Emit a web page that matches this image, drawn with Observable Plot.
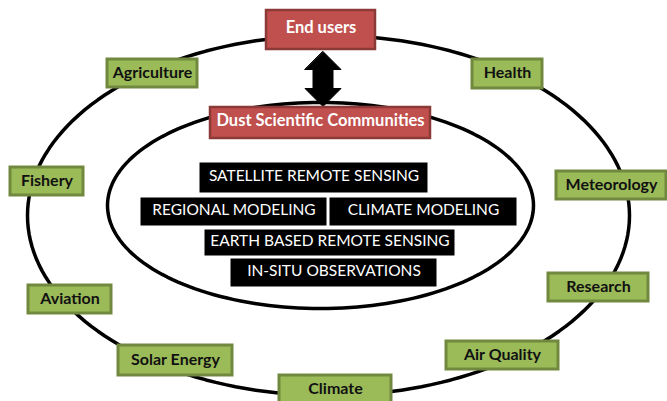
<!DOCTYPE html>
<html><head><meta charset="utf-8">
<script src="https://cdn.jsdelivr.net/npm/d3@7"></script>
<script src="https://cdn.jsdelivr.net/npm/@observablehq/plot@0.6"></script>
<style>html,body{margin:0;padding:0;background:#fff}svg{display:block}</style>
</head><body><div id="chart"></div>
<script>
// Outer ring of user sectors
const sectorLabels = ["Agriculture","Health","Fishery","Meteorology","Research","Aviation","Air Quality","Solar Energy","Climate"];
const sectorLeft   = [107, 472, 10, 556, 548, 28, 446, 118, 279];
const sectorRight  = [197, 542, 83, 666, 648, 111, 558, 232, 391];
const sectorTop    = [59, 59, 167, 171, 273, 285, 341, 345, 375];
const sectorBottom = [87, 88, 195, 199, 301, 313, 369, 375, 404];

// Central actors
const actorLabels = ["End users", "Dust Scientific Communities"];
const actorLeft   = [266, 210];
const actorRight  = [375, 430];
const actorTop    = [10, 107];
const actorBottom = [49, 138];

// Scientific tools inside the inner ring
const toolLabels = ["SATELLITE REMOTE SENSING","REGIONAL MODELING","CLIMATE MODELING","EARTH BASED REMOTE SENSING","IN-SITU OBSERVATIONS"];
const toolLeft   = [199, 140, 329, 204, 230];
const toolRight  = [428, 327, 517, 455, 437];
const toolTop    = [162, 197, 197, 229, 258];
const toolBottom = [193, 226, 226, 256, 287];

// Rings (centre x, centre y, radius x, radius y)
const ringCx = [328, 320];
const ringCy = [215, 205];
const ringRx = [301, 213];
const ringRy = [180, 103];

const W = 667, H = 401;
const FONT = "Lato, 'Open Sans', sans-serif";

const sectors = sectorLabels.map((label, i) => ({label, x1: sectorLeft[i], x2: sectorRight[i], y1: sectorTop[i], y2: sectorBottom[i]}));
const actors = actorLabels.map((label, i) => ({label, x1: actorLeft[i], x2: actorRight[i], y1: actorTop[i], y2: actorBottom[i]}));
const tools = toolLabels.map((label, i) => ({label, x1: toolLeft[i], x2: toolRight[i], y1: toolTop[i], y2: toolBottom[i]}));

// ellipse outlines
const ringPts = [];
ringCx.forEach((cx, r) => {
  d3.range(0, 361, 2).forEach(a => {
    const t = a * Math.PI / 180;
    ringPts.push({ring: r, x: cx + ringRx[r] * Math.cos(t), y: ringCy[r] + ringRy[r] * Math.sin(t)});
  });
});

// double arrow between the two actor boxes
const ax = (actorLeft[0] + actorRight[0]) / 2 + 2;
const yA = actorBottom[0] + 2, yB = actorTop[1] - 1;
const headH = 18, headW = 18, shaftW = 10;
const arrow = [
  [ax, yA], [ax + headW, yA + headH], [ax + shaftW, yA + headH], [ax + shaftW, yB - headH],
  [ax + headW, yB - headH], [ax, yB], [ax - headW, yB - headH], [ax - shaftW, yB - headH],
  [ax - shaftW, yA + headH], [ax - headW, yA + headH]
].map(([x, y]) => ({x, y}));

const mid = d => ({...d, cx: (d.x1 + d.x2) / 2, cy: (d.y1 + d.y2) / 2});

const chart = Plot.plot({
  width: W, height: H,
  margin: 0,
  x: {domain: [0, W], range: [0, W], axis: null},
  y: {domain: [0, H], range: [0, H], axis: null},
  style: {background: "#fff"},
  marks: [
    Plot.line(ringPts, {x: "x", y: "y", z: "ring", stroke: "#000", strokeWidth: 3.5, curve: "linear-closed"}),
    Plot.line(arrow, {x: "x", y: "y", fill: "#000", stroke: "#000", strokeWidth: 1, curve: "linear-closed"}),
    Plot.rect(sectors, {x1: "x1", x2: "x2", y1: "y1", y2: "y2", fill: "#9bbb59", stroke: "#71893f", strokeWidth: 3}),
    Plot.rect(actors, {x1: "x1", x2: "x2", y1: "y1", y2: "y2", fill: "#c0504d", stroke: "#8c3a38", strokeWidth: 2.5}),
    Plot.rect(tools, {x1: "x1", x2: "x2", y1: "y1", y2: "y2", fill: "#000", stroke: "#fff", strokeWidth: 1}),
    Plot.text(sectors.map(mid), {x: "cx", y: "cy", dy: -1, text: "label", fill: "#111", fontSize: 16, fontWeight: "bold", fontFamily: FONT}),
    Plot.text(actors.map(mid), {x: "cx", y: "cy", dy: -2.5, text: "label", fill: "#fff", fontSize: 16.5, fontWeight: "bold", fontFamily: FONT}),
    Plot.text(tools.map(mid), {x: "cx", y: "cy", dy: -1.5, text: "label", fill: "#fff", fontSize: 15.5, fontFamily: FONT})
  ]
});
document.getElementById("chart").appendChild(chart);
</script>
</body></html>
